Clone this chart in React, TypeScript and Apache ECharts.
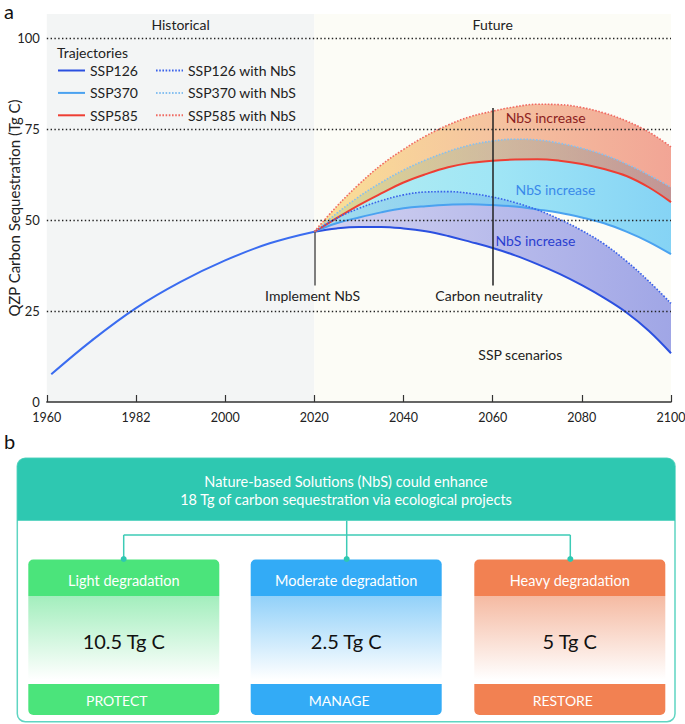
import React, { useEffect, useRef } from 'react';
import * as echarts from 'echarts';

// ---------- data ----------
const xTicks = [1960, 1980, 2000, 2020, 2040, 2060, 2080, 2100];
const xTickLabels = ['1960', '1982', '2000', '2020', '2040', '2060', '2080', '2100'];
const yGridValues = [25, 50, 75, 100];
const yTop = 106.6;

const bgRegions = [
  [1960, 2020],
  [2020, 2100],
];

const histYears = [1961, 1970, 1980, 1990, 2000, 2010, 2020];
const histValues = [7.6, 16.8, 25.8, 33.0, 38.9, 43.6, 46.8];

const futureYears = [2020, 2025, 2030, 2035, 2040, 2045, 2050, 2055, 2060, 2065, 2070, 2075, 2080, 2085, 2090, 2095, 2100];
const ssp126 = [46.8, 47.7, 48.1, 48.1, 47.7, 46.9, 45.6, 44.0, 42.3, 40.3, 37.9, 35.2, 32.1, 28.6, 24.6, 19.6, 13.4];
const ssp370 = [46.8, 49.1, 50.7, 52.1, 53.2, 53.8, 54.2, 54.3, 54.1, 53.7, 52.9, 52.0, 50.7, 49.1, 46.8, 44.0, 40.6];
const ssp585 = [46.8, 50.5, 54.1, 57.3, 60.3, 62.6, 64.5, 65.7, 66.3, 66.6, 66.7, 66.3, 65.4, 64.0, 62.1, 59.0, 54.9];
const ssp126NbS = [46.8, 50.5, 53.2, 55.3, 56.9, 57.7, 57.8, 57.3, 56.3, 54.8, 52.8, 50.2, 47.1, 43.4, 38.7, 33.2, 27.1];
const ssp370NbS = [46.8, 51.8, 56.4, 60.3, 63.7, 66.5, 68.8, 70.6, 71.7, 72.2, 72.0, 71.1, 69.7, 67.9, 65.4, 62.4, 59.0];
const ssp585NbS = [46.8, 53.7, 59.8, 65.1, 69.4, 73.1, 76.1, 78.4, 79.9, 81.1, 81.8, 81.7, 80.9, 79.4, 77.2, 74.2, 70.1];

const boxTitles = ['Light degradation', 'Moderate degradation', 'Heavy degradation'];
const boxValues = ['10.5 Tg C', '2.5 Tg C', '5 Tg C'];
const boxActions = ['PROTECT', 'MANAGE', 'RESTORE'];
const headerLines = [
  'Nature-based Solutions (NbS) could enhance',
  '18 Tg of carbon sequestration via ecological projects',
];

// ---------- helpers ----------
const FONT = 'Lato, "Open Sans", sans-serif';
const pair = (xs: number[], ys: number[]) => xs.map((x, i) => [x, ys[i]]);
// value first, year second (so that stacking acts on the value dimension)
const pairVY = (xs: number[], ys: number[]) => xs.map((x, i) => [ys[i], x]);
const diff = (top: number[], base: number[]) => top.map((v, i) => +(v - base[i]).toFixed(2));
const hGrad = (stops: string[]) =>
  new echarts.graphic.LinearGradient(0, 0, 1, 0, stops.map((c, i) => ({ offset: i / (stops.length - 1), color: c })));

export default function App() {
  const ref = useRef<HTMLDivElement>(null);

  useEffect(() => {
    if (!ref.current) return;
    const chart = echarts.init(ref.current, null, { renderer: 'svg' });

    const bandBase = (name: string, stack: string, data: number[]) => ({
      name, type: 'line', stack, data: pairVY(futureYears, data), encode: { x: 1, y: 0 },
      symbol: 'none', smooth: 0.4, lineStyle: { opacity: 0, width: 0 }, silent: true, z: 2,
    });
    const band = (name: string, stack: string, top: number[], base: number[], stops: string[]) => ({
      name, type: 'line', stack, data: pairVY(futureYears, diff(top, base)), encode: { x: 1, y: 0 },
      symbol: 'none', smooth: 0.4, lineStyle: { opacity: 0, width: 0 },
      areaStyle: { color: hGrad(stops), opacity: 1 }, silent: true, z: 2,
    });
    const line = (name: string, data: number[], color: string, dotted: boolean) => ({
      name, type: 'line', data: pair(futureYears, data), symbol: 'none', smooth: 0.4, z: 4,
      color,
      lineStyle: { color, width: dotted ? 1.6 : 2, type: dotted ? [1.6, 1.6] : 'solid' },
    });

    const annot = (coord: number[], text: string, color: string) => ({
      coord, label: { formatter: text, color },
    });

    const boxX = [28.3, 250.7, 474.3];
    const boxColors = ['#4be47b', '#33abf6', '#f28152'];
    const boxLight = ['#a3eebd', '#92d1f9', '#f5baa2'];
    const boxW = 191;
    const boxTop = 559.5;
    const bgColors = ['#f3f5f5', '#fcfcf6'];

    const graphics: any[] = [
      { type: 'text', left: 4, top: 1, z: 100, style: { text: 'a', fontSize: 20, fontFamily: FONT, fill: '#111' } },
      { type: 'text', left: 4, top: 431, z: 100, style: { text: 'b', fontSize: 20, fontFamily: FONT, fill: '#111' } },
      { type: 'text', z: 100, style: { text: 'Trajectories', x: 57, y: 52, fontSize: 14, fontFamily: FONT, fill: '#222', textVerticalAlign: 'middle' } },
      { type: 'rect', shape: { x: 17.3, y: 458.3, width: 657.7, height: 263.4, r: 8 }, style: { fill: '#fff', stroke: '#5fd5c2', lineWidth: 1.5 } },
      { type: 'rect', shape: { x: 17.3, y: 458.3, width: 657.7, height: 62.4, r: [8, 8, 0, 0] }, style: { fill: '#2ec8b1' } },
      ...headerLines.map((t, i) => ({
        type: 'text', style: { text: t, x: 346, y: 481 + i * 18.5, fontSize: 14.5, fontFamily: FONT, fill: '#fff', textAlign: 'center', textVerticalAlign: 'middle' },
      })),
      { type: 'line', shape: { x1: 346.7, y1: 520.7, x2: 346.7, y2: 559 }, style: { stroke: '#3dcbb6', lineWidth: 1.5 } },
      { type: 'line', shape: { x1: 123.7, y1: 535, x2: 570.3, y2: 535 }, style: { stroke: '#3dcbb6', lineWidth: 1.5 } },
      { type: 'line', shape: { x1: 123.7, y1: 535, x2: 123.7, y2: 559 }, style: { stroke: '#3dcbb6', lineWidth: 1.5 } },
      { type: 'line', shape: { x1: 570.3, y1: 535, x2: 570.3, y2: 559 }, style: { stroke: '#3dcbb6', lineWidth: 1.5 } },
    ];
    boxX.forEach((x, i) => {
      const cx = x + boxW / 2;
      graphics.push(
        { type: 'rect', shape: { x, y: boxTop, width: boxW, height: 36.5, r: [5, 5, 0, 0] }, style: { fill: boxColors[i] } },
        {
          type: 'rect', shape: { x, y: boxTop + 36.5, width: boxW, height: 88 },
          style: { fill: new echarts.graphic.LinearGradient(0, 0, 0, 1, [{ offset: 0, color: boxLight[i] }, { offset: 0.95, color: '#ffffff' }]) },
        },
        { type: 'rect', shape: { x, y: boxTop + 124.5, width: boxW, height: 31, r: [0, 0, 5, 5] }, style: { fill: boxColors[i] } },
        { type: 'text', style: { text: boxTitles[i], x: cx, y: 580.7, fontSize: 14.5, fontFamily: FONT, fill: '#fff', textAlign: 'center', textVerticalAlign: 'middle' } },
        { type: 'text', style: { text: boxValues[i], x: cx, y: 641, fontSize: 20, fontFamily: FONT, fill: '#111', textAlign: 'center', textVerticalAlign: 'middle' } },
        { type: 'text', style: { text: boxActions[i], x: cx - 7, y: 700, fontSize: 14, fontFamily: FONT, fill: '#fff', textAlign: 'center', textVerticalAlign: 'middle' } },
        { type: 'circle', shape: { cx: [123.7, 346.7, 570.3][i], cy: 559, r: 3 }, style: { fill: '#2ec8b1' } },
      );
    });

    const legendBase = {
      orient: 'vertical', top: 63.5, itemWidth: 27, itemHeight: 14, itemGap: 8.4, padding: 0,
      textStyle: { fontSize: 14, fontFamily: FONT, color: '#222' }, selectedMode: false,
      itemStyle: { opacity: 0 },
    };

    chart.setOption({
      animation: false,
      backgroundColor: '#ffffff',
      textStyle: { fontFamily: FONT },
      grid: { left: 46.8, right: 14, top: 14, bottom: 322, outerBoundsMode: 'none' },
      legend: [
        { ...legendBase, left: 57, data: ['SSP126', 'SSP370', 'SSP585'] },
        { ...legendBase, left: 155, data: ['SSP126 with NbS', 'SSP370 with NbS', 'SSP585 with NbS'] },
      ],
      xAxis: {
        type: 'value', min: 1960, max: 2100, interval: 20,
        axisLine: { show: true, lineStyle: { color: '#333', width: 1.5 } },
        axisTick: { show: true, inside: true, length: 7, lineStyle: { color: '#333', width: 1.2 } },
        axisLabel: {
          fontSize: 12.5, color: '#222', margin: 9, fontFamily: FONT,
          formatter: (v: number) => { const i = xTicks.indexOf(v); return i >= 0 ? xTickLabels[i] : ''; },
        },
        splitLine: { show: false },
      },
      yAxis: {
        type: 'value', min: 0, max: yTop, interval: 25,
        name: 'QZP Carbon Sequestration (Tg C)', nameLocation: 'middle', nameGap: 25, nameMoveOverlap: false,
        nameTextStyle: { fontSize: 15, color: '#222', fontFamily: FONT },
        axisLine: { show: false }, axisTick: { show: false }, splitLine: { show: false },
        axisLabel: {
          fontSize: 13, color: '#222', margin: 7, fontFamily: FONT,
          formatter: (v: number) => (yGridValues.includes(v) || v === 0 ? String(v) : ''),
        },
      },
      graphic: graphics,
      series: [
        {
          name: 'background', type: 'custom', z: 0, silent: true,
          data: bgRegions.map((r) => [r[0], r[1], 0, yTop]),
          encode: { x: [0, 1], y: [2, 3] },
          renderItem: (params: any, api: any) => {
            const p0 = api.coord([api.value(0), api.value(3)]);
            const p1 = api.coord([api.value(1), api.value(2)]);
            return {
              type: 'rect',
              shape: { x: p0[0], y: p0[1], width: p1[0] - p0[0], height: p1[1] - p0[1] },
              style: { fill: bgColors[params.dataIndex] },
            };
          },
        },
        bandBase('base126', 's126', ssp126),
        band('band126', 's126', ssp126NbS, ssp126, ['rgba(185,184,235,0.6)', 'rgba(140,145,228,0.6)', 'rgba(99,109,219,0.6)']),
        bandBase('base370', 's370', ssp370),
        band('band370', 's370', ssp370NbS, ssp370, ['rgba(134,229,236,0.6)', 'rgba(99,215,245,0.6)', 'rgba(54,184,244,0.6)']),
        bandBase('base585', 's585', ssp585),
        band('band585', 's585', ssp585NbS, ssp585, ['rgba(249,207,85,0.6)', 'rgba(240,157,102,0.6)', 'rgba(235,107,85,0.6)']),
        {
          name: 'Historical', type: 'line', data: pair(histYears, histValues), symbol: 'none', smooth: 0.4, z: 4,
          lineStyle: { color: '#3a6cf0', width: 2 }, color: '#3a6cf0',
          markLine: {
            symbol: 'none', silent: true, label: { show: false },
            data: [
              ...yGridValues.map((v) => ({ yAxis: v, lineStyle: { type: [1.4, 2.4], color: '#222', width: 1.3 } })),
              [{ coord: [2020, 46.8], lineStyle: { type: 'solid', color: '#555', width: 1.5 } }, { coord: [2020, 32] }],
              [{ coord: [2060, 80.8], lineStyle: { type: 'solid', color: '#222', width: 1.5 } }, { coord: [2060, 32] }],
            ],
          },
          markPoint: {
            symbol: 'circle', symbolSize: 0, silent: true,
            label: { show: true, position: 'inside', fontSize: 14, fontFamily: FONT, color: '#222' },
            data: [
              annot([1990, 103.6], 'Historical', '#222'),
              annot([2060, 103.6], 'Future', '#222'),
              annot([2019.6, 29.2], 'Implement NbS', '#222'),
              annot([2059.2, 29.2], 'Carbon neutrality', '#222'),
              annot([2066.2, 13.1], 'SSP scenarios', '#222'),
              annot([2071.9, 78.2], 'NbS increase', '#8c1f1f'),
              annot([2074.1, 58.5], 'NbS increase', '#3a8aea'),
              annot([2069.6, 44.4], 'NbS increase', '#2b3fd0'),
            ],
          },
        },
        line('SSP126', ssp126, '#2b50e0', false),
        line('SSP370', ssp370, '#4aa2f0', false),
        line('SSP585', ssp585, '#ee3e33', false),
        line('SSP126 with NbS', ssp126NbS, '#3a62ea', true),
        line('SSP370 with NbS', ssp370NbS, '#86c0f0', true),
        line('SSP585 with NbS', ssp585NbS, '#f06a62', true),
      ],
    });

    return () => chart.dispose();
  }, []);

  return <div ref={ref} style={{ position: 'absolute', left: 0, top: 0, width: 685, height: 724 }} />;
}
